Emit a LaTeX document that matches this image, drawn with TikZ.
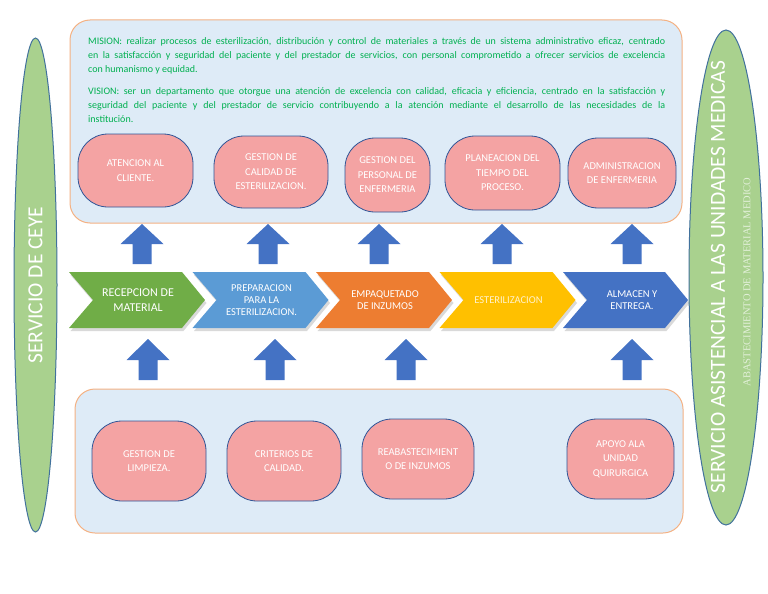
\documentclass[tikz,border=0pt]{standalone}
\usepackage{fontspec}
\setmainfont{Carlito}
\newfontfamily\smallserif{Liberation Serif}
\usetikzlibrary{positioning,shapes.geometric}
\definecolor{panelblue}{HTML}{DEEBF7}
\definecolor{panelline}{HTML}{F4B183}
\definecolor{pinkfill}{HTML}{F4A3A3}
\definecolor{pinkline}{HTML}{2F5597}
\definecolor{ovalgreen}{HTML}{A9D18E}
\definecolor{ovalline}{HTML}{41719C}
\definecolor{arrowblue}{HTML}{4472C4}
\definecolor{textgreen}{HTML}{00B050}
\definecolor{stepgreen}{HTML}{70AD47}
\definecolor{steplight}{HTML}{5B9BD5}
\definecolor{steporange}{HTML}{ED7D31}
\definecolor{stepyellow}{HTML}{FFC000}
\definecolor{stepblue}{HTML}{4472C4}
\definecolor{paleyellow}{HTML}{FFF2CC}
\definecolor{palegreen}{HTML}{E2F0D9}
\begin{document}
\begin{tikzpicture}[x=1pt,y=-1pt,
  panel/.style={draw=panelline,fill=panelblue,line width=1pt,rounded corners=20pt,inner sep=0pt},
  task node/.style={draw=pinkline,fill=pinkfill,line width=0.8pt,rounded corners=30pt,text=white,align=center,inner sep=0pt,font=\fontsize{10.5pt}{14.5pt}\selectfont},
  oval node/.style={ellipse,draw=ovalline,fill=ovalgreen,line width=1pt,inner sep=0pt},
  step text/.style={text=white,align=center,inner sep=0pt,font=\fontsize{10.5pt}{12pt}\selectfont},
  goal text/.style={text=textgreen,text width=577pt,align=justify,inner sep=0pt,anchor=north west,font=\fontsize{10pt}{14pt}\selectfont}]
\useasboundingbox (0,0) rectangle (768,594);
% panels
\node [panel,minimum width=612pt,minimum height=203pt] (top panel) at (376,121.5) {};
\node [panel,minimum width=608pt,minimum height=144pt] (bottom panel) at (379,461) {};
\node [goal text] (mision) at (88,37) {MISION: realizar procesos de esterilización, distribución y control de materiales a través de un sistema administrativo eficaz, centrado\linebreak en la satisfacción y seguridad del paciente y del prestador de servicios, con personal comprometido a ofrecer servicios de excelencia\linebreak con humanismo y equidad.};
\node [goal text] (vision) at (88,87) {VISION: ser un departamento que otorgue una atención de excelencia con calidad, eficacia y eficiencia, centrado en la satisfacción y\linebreak seguridad del paciente y del prestador de servicio contribuyendo a la atención mediante el desarrollo de las necesidades de la\linebreak institución.};
% upper tasks
\node [task node,minimum width=115pt,minimum height=73pt] (t1) at (135.5,170.5) {ATENCION AL\\CLIENTE.};
\node [task node,minimum width=114pt,minimum height=72pt] (t2) at (271,172) {GESTION DE\\CALIDAD DE\\ESTERILIZACION.};
\node [task node,minimum width=85pt,minimum height=74pt] (t3) at (387.5,175) {GESTION DEL\\PERSONAL DE\\ENFERMERIA};
\node [task node,minimum width=115pt,minimum height=74pt] (t4) at (502.5,173) {PLANEACION DEL\\TIEMPO DEL\\PROCESO.};
\node [task node,minimum width=108pt,minimum height=70pt] (t5) at (622,173) {ADMINISTRACION\\DE ENFERMERIA};
% lower tasks
\node [task node,minimum width=114pt,minimum height=80pt] (b1) at (149,461) {GESTION DE\\LIMPIEZA.};
\node [task node,minimum width=114pt,minimum height=80pt] (b2) at (284,461) {CRITERIOS DE\\CALIDAD.};
\node [task node,minimum width=112pt,minimum height=80pt] (b3) at (418,459) {REABASTECIMIENT\\O DE INZUMOS};
\node [task node,minimum width=107pt,minimum height=80pt] (b4) at (620.5,459) {APOYO ALA\\UNIDAD\\QUIRURGICA};
% block arrows
\foreach \ax in {142,268,379,502,632}
  \fill [arrowblue] (\ax-9.5,264) -- (\ax-9.5,244) -- (\ax-21.5,244) -- (\ax,224) -- (\ax+21.5,244) -- (\ax+9.5,244) -- (\ax+9.5,264) -- cycle;
\foreach \ax in {148,275,406,632}
  \fill [arrowblue] (\ax-9.5,380) -- (\ax-9.5,360) -- (\ax-21.5,360) -- (\ax,339) -- (\ax+21.5,360) -- (\ax+9.5,360) -- (\ax+9.5,380) -- cycle;
% process chevrons
\foreach \x/\w/\col in {69/136/stepgreen,192.5/136/steplight,316/136/steporange,439.5/136/stepyellow,563/125/stepblue} {
  \fill [black,opacity=0.15] (\x+1.5,275) -- ++(\w-23,0) -- ++(23,28) -- ++(-23,28) -- ++(-\w+23,0) -- ++(24,-28) -- cycle;
  \fill [\col] (\x,272) -- ++(\w-23,0) -- ++(23,28) -- ++(-23,28) -- ++(-\w+23,0) -- ++(24,-28) -- cycle;
}
\node [step text,font=\fontsize{12pt}{15pt}\selectfont] (s1) at (138,300) {RECEPCION DE\\MATERIAL};
\node [step text] (s2) at (261.5,300) {PREPARACION\\PARA LA\\ESTERILIZACION.};
\node [step text] (s3) at (385,300) {EMPAQUETADO\\DE INZUMOS};
\node [step text,text=paleyellow] (s4) at (508.5,300) {ESTERILIZACION};
\node [step text] (s5) at (632,300) {ALMACEN Y\\ENTREGA.};
% side ovals
\node [oval node,minimum width=43pt,minimum height=494pt] (ceye) at (35.5,285) {};
\node [text=white,rotate=90,font=\fontsize{21.5pt}{24pt}\selectfont] (ceye text) at (ceye.center) {SERVICIO DE CEYE};
\node [oval node,minimum width=74pt,minimum height=495pt] (unidades) at (726,277.5) {};
\node [text=white,rotate=90,font=\fontsize{21.5pt}{24pt}\selectfont] (unidades text) at (718,277) {SERVICIO ASISTENCIAL A LAS UNIDADES MEDICAS};
\node [text=palegreen,rotate=90,font=\smallserif\fontsize{10.5pt}{12pt}\selectfont] (abasto) at (747,282) {ABASTECIMIENTO DE MATERIAL MEDICO};
\end{tikzpicture}
\end{document}
